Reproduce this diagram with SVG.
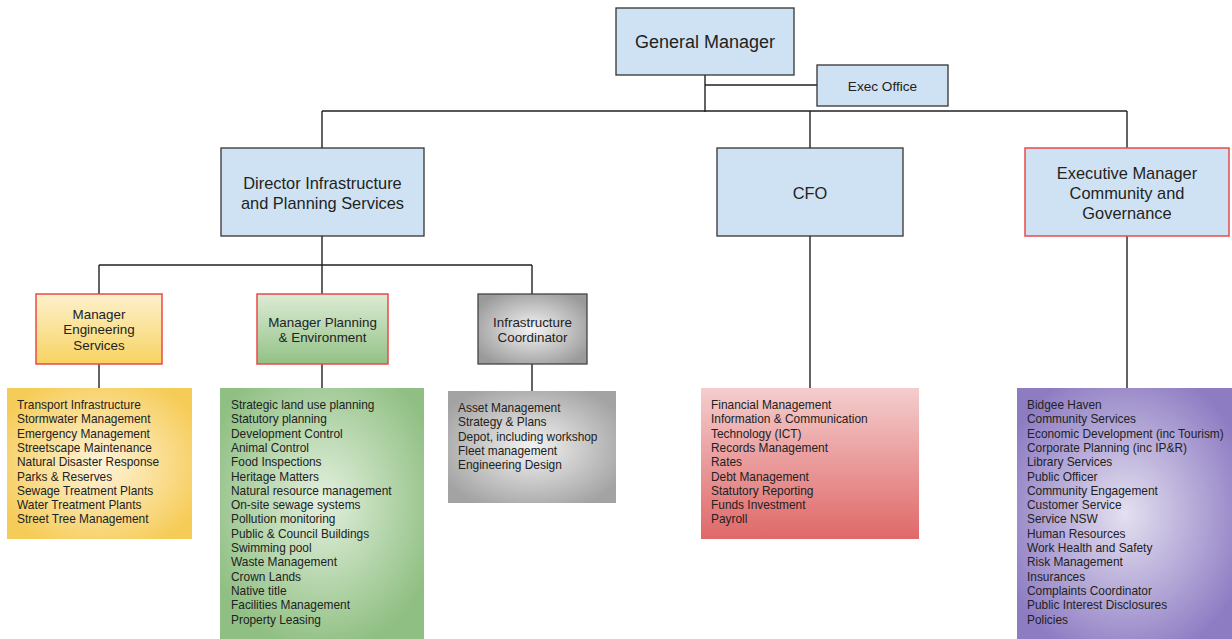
<svg xmlns="http://www.w3.org/2000/svg" width="1232" height="639" viewBox="0 0 1232 639">
<style>
text{font-family:"Liberation Sans",Arial,sans-serif;fill:#222}
.c{text-anchor:middle}
.l{font-size:11.9px}
.h{font-size:16.4px}
.m{font-size:13.4px}
.blue{fill:#cfe2f3;stroke:#333;stroke-width:1.3}
.red{stroke:#ea4a4a;stroke-width:1.5}
.line{stroke:#222;stroke-width:1.4;fill:none}
</style>
<defs>
<linearGradient id="gY" x1="0" y1="0" x2="0" y2="1"><stop offset="0" stop-color="#fdf1cc"/><stop offset="1" stop-color="#f7d362"/></linearGradient>
<linearGradient id="gG" x1="0" y1="0" x2="0" y2="1"><stop offset="0" stop-color="#dcecd5"/><stop offset="1" stop-color="#93c186"/></linearGradient>
<radialGradient id="gGr" cx="0.5" cy="0.5" r="0.6"><stop offset="0" stop-color="#f4f4f4"/><stop offset="1" stop-color="#9a9a9a"/></radialGradient>
<radialGradient id="rY" cx="0.5" cy="0.5" r="0.6"><stop offset="0" stop-color="#fef4dc"/><stop offset="1" stop-color="#f6cc58"/></radialGradient>
<radialGradient id="rG" cx="0.5" cy="0.45" r="0.6"><stop offset="0" stop-color="#e3f0de"/><stop offset="1" stop-color="#8fbf82"/></radialGradient>
<radialGradient id="rGr" cx="0.5" cy="0.5" r="0.6"><stop offset="0" stop-color="#f2f2f2"/><stop offset="1" stop-color="#a3a3a3"/></radialGradient>
<linearGradient id="lR" x1="0" y1="0" x2="0" y2="1"><stop offset="0" stop-color="#f4cdcd"/><stop offset="1" stop-color="#e06868"/></linearGradient>
<radialGradient id="rP" cx="0.5" cy="0.5" r="0.6"><stop offset="0" stop-color="#e4e0f0"/><stop offset="1" stop-color="#8e7cc3"/></radialGradient>
</defs>
<g id="connectors">
<path class="line" d="M705 75V112M705 85H817M322 111H1127M322 111V148M810 111V148M1127 111V148"/>
<path class="line" d="M322 236V265M99 265H532M99 265V294M322 265V294M532 265V294"/>
<path class="line" d="M99 364V388M322 364V388M532 364V391M810 236V388M1127 236V388"/>
</g>
<g id="gm"><rect class="blue" x="616" y="8" width="178" height="67"/><text class="c" x="705" y="48" font-size="18">General Manager</text></g>
<g id="exec"><rect class="blue" x="817" y="65" width="131" height="41"/><text class="c" x="882.5" y="90.5" font-size="13.6">Exec Office</text></g>
<g id="dir"><rect class="blue" x="221" y="148" width="203" height="88"/><text class="c h" x="322.5" y="188.5">Director Infrastructure</text><text class="c h" x="322.5" y="208.5">and Planning Services</text></g>
<g id="cfo"><rect class="blue" x="717" y="148" width="186" height="88"/><text class="c h" x="810" y="198.5">CFO</text></g>
<g id="emcg"><rect class="blue red" x="1025" y="148" width="204" height="88"/><text class="c h" x="1127" y="178.5">Executive Manager</text><text class="c h" x="1127" y="198.5">Community and</text><text class="c h" x="1127" y="218.5">Governance</text></g>
<g id="mes"><rect class="red" fill="url(#gY)" x="36" y="294" width="126" height="70"/><text class="c m" x="99" y="318.5">Manager</text><text class="c m" x="99" y="334">Engineering</text><text class="c m" x="99" y="349.5">Services</text></g>
<g id="mpe"><rect class="red" fill="url(#gG)" x="257" y="294" width="131" height="70"/><text class="c m" x="322.5" y="326.5">Manager Planning</text><text class="c m" x="322.5" y="342">&amp; Environment</text></g>
<g id="ic"><rect fill="url(#gGr)" stroke="#444" stroke-width="1.3" x="478" y="294" width="109" height="70"/><text class="c m" x="532.5" y="326.5">Infrastructure</text><text class="c m" x="532.5" y="342">Coordinator</text></g>
<g id="eng-list"><rect fill="url(#rY)" x="7" y="388" width="185" height="151"/>
<text class="l"><tspan x="17" y="409">Transport Infrastructure</tspan><tspan x="17" y="423.3">Stormwater Management</tspan><tspan x="17" y="437.6">Emergency Management</tspan><tspan x="17" y="451.9">Streetscape Maintenance</tspan><tspan x="17" y="466.2">Natural Disaster Response</tspan><tspan x="17" y="480.5">Parks &amp; Reserves</tspan><tspan x="17" y="494.8">Sewage Treatment Plants</tspan><tspan x="17" y="509.1">Water Treatment Plants</tspan><tspan x="17" y="523.4">Street Tree Management</tspan></text></g>
<g id="plan-list"><rect fill="url(#rG)" x="220" y="388" width="204" height="252"/>
<text class="l"><tspan x="231" y="409">Strategic land use planning</tspan><tspan x="231" y="423.3">Statutory planning</tspan><tspan x="231" y="437.6">Development Control</tspan><tspan x="231" y="451.9">Animal Control</tspan><tspan x="231" y="466.2">Food Inspections</tspan><tspan x="231" y="480.5">Heritage Matters</tspan><tspan x="231" y="494.8">Natural resource management</tspan><tspan x="231" y="509.1">On-site sewage systems</tspan><tspan x="231" y="523.4">Pollution monitoring</tspan><tspan x="231" y="537.7">Public &amp; Council Buildings</tspan><tspan x="231" y="552">Swimming pool</tspan><tspan x="231" y="566.3">Waste Management</tspan><tspan x="231" y="580.6">Crown Lands</tspan><tspan x="231" y="594.9">Native title</tspan><tspan x="231" y="609.2">Facilities Management</tspan><tspan x="231" y="623.5">Property Leasing</tspan></text></g>
<g id="infra-list"><rect fill="url(#rGr)" x="448" y="391" width="168" height="112"/>
<text class="l"><tspan x="458" y="412">Asset Management</tspan><tspan x="458" y="426.3">Strategy &amp; Plans</tspan><tspan x="458" y="440.6">Depot, including workshop</tspan><tspan x="458" y="454.9">Fleet management</tspan><tspan x="458" y="469.2">Engineering Design</tspan></text></g>
<g id="cfo-list"><rect fill="url(#lR)" x="701" y="388" width="218" height="151"/>
<text class="l"><tspan x="711" y="409">Financial Management</tspan><tspan x="711" y="423.3">Information &amp; Communication</tspan><tspan x="711" y="437.6">Technology (ICT)</tspan><tspan x="711" y="451.9">Records Management</tspan><tspan x="711" y="466.2">Rates</tspan><tspan x="711" y="480.5">Debt Management</tspan><tspan x="711" y="494.8">Statutory Reporting</tspan><tspan x="711" y="509.1">Funds Investment</tspan><tspan x="711" y="523.4">Payroll</tspan></text></g>
<g id="cg-list"><rect fill="url(#rP)" x="1017" y="388" width="216" height="252"/>
<text class="l"><tspan x="1027" y="409">Bidgee Haven</tspan><tspan x="1027" y="423.3">Community Services</tspan><tspan x="1027" y="437.6">Economic Development (inc Tourism)</tspan><tspan x="1027" y="451.9">Corporate Planning (inc IP&amp;R)</tspan><tspan x="1027" y="466.2">Library Services</tspan><tspan x="1027" y="480.5">Public Officer</tspan><tspan x="1027" y="494.8">Community Engagement</tspan><tspan x="1027" y="509.1">Customer Service</tspan><tspan x="1027" y="523.4">Service NSW</tspan><tspan x="1027" y="537.7">Human Resources</tspan><tspan x="1027" y="552">Work Health and Safety</tspan><tspan x="1027" y="566.3">Risk Management</tspan><tspan x="1027" y="580.6">Insurances</tspan><tspan x="1027" y="594.9">Complaints Coordinator</tspan><tspan x="1027" y="609.2">Public Interest Disclosures</tspan><tspan x="1027" y="623.5">Policies</tspan></text></g>
</svg>
